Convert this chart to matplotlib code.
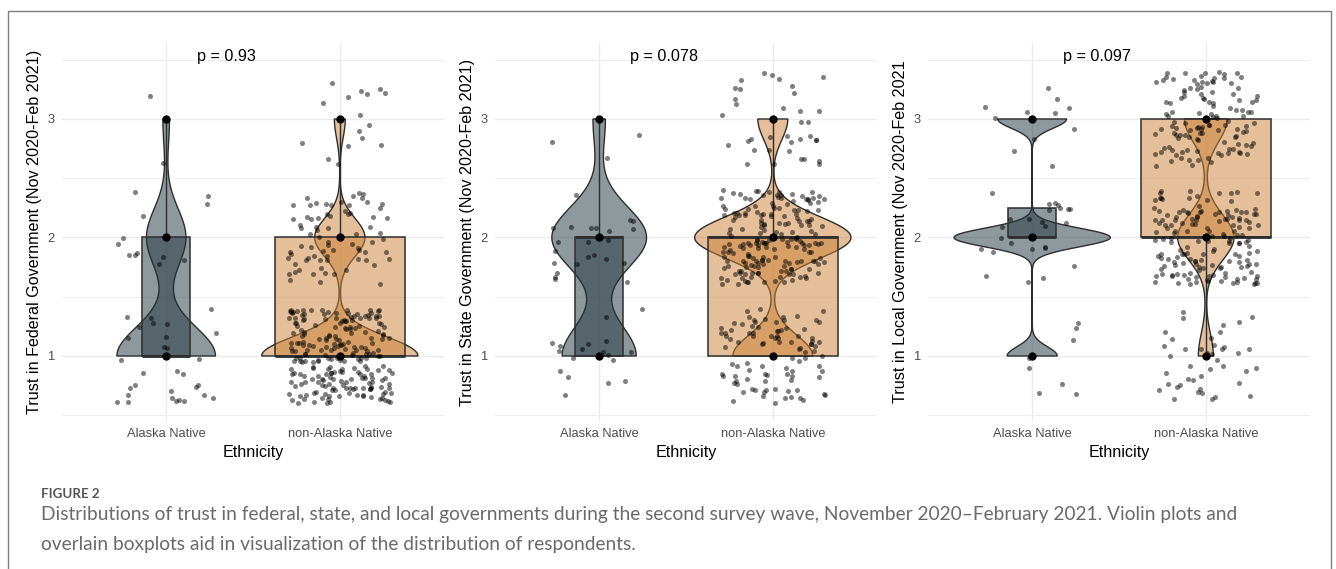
import numpy as np
import matplotlib
matplotlib.use("Agg")
import matplotlib.pyplot as plt
from matplotlib.colors import to_rgba
from matplotlib.lines import Line2D
from matplotlib.ticker import FixedLocator

# ---------------- data (counts of responses at levels 1, 2, 3) ----------------
groups = ["Alaska Native", "non-Alaska Native"]
levels = [1, 2, 3]
federal_an = [30, 12, 2]
federal_non = [230, 74, 16]
state_an = [18, 23, 3]
state_non = [96, 188, 36]
local_an = [8, 25, 11]
local_non = [42, 158, 120]
p_labels = ["p = 0.93", "p = 0.078", "p = 0.097"]
y_titles = ["Trust in Federal Government (Nov 2020-Feb 2021)",
            "Trust in State Government (Nov 2020-Feb 2021)",
            "Trust in Local Government (Nov 2020-Feb 2021"]
x_title = "Ethnicity"
fig_label = "FIGURE 2"
caption_lines = [
    "Distributions of trust in federal, state, and local governments during the second survey wave, November 2020\u2013February 2021. Violin plots and",
    "overlain boxplots aid in visualization of the distribution of respondents.",
]

panels = [(federal_an, federal_non), (state_an, state_non), (local_an, local_non)]

# ---------------- style ----------------
W, H = 1336, 569
group_colors = ["#1f353d", "#cb8135"]
fill_alpha = 0.5
edge_col = "#2e2e2e"
grid_col = "#ebebeb"
txt_col = "#4d4d4d"
font = "Liberation Sans"

fig = plt.figure(figsize=(W / 100, H / 100), dpi=100)
fig.patch.set_facecolor("white")

panel_left_px = [62, 495, 928]
panel_w_px = 382
panel_top_px, panel_bot_px = 43, 421


def bw_nrd0(x):
    hi = np.std(x, ddof=1)
    q75, q25 = np.percentile(x, [75, 25])
    lo = min(hi, (q75 - q25) / 1.34)
    if lo == 0:
        lo = hi if hi > 0 else 1.0
    return 0.9 * lo * len(x) ** (-0.2)


rng = np.random.default_rng(11)

for pi, (cnt_an, cnt_non) in enumerate(panels):
    left = panel_left_px[pi] / W
    bottom = (H - panel_bot_px) / H
    ax = fig.add_axes([left, bottom, panel_w_px / W, (panel_bot_px - panel_top_px) / H])
    ax.set_xlim(0.4, 2.6)
    ax.set_ylim(0.4515, 3.641)
    for s in ax.spines.values():
        s.set_visible(False)
    ax.set_axisbelow(True)
    ax.set_xticks([1, 2])
    ax.set_yticks([1, 2, 3])
    ax.yaxis.set_minor_locator(FixedLocator([0.5, 1.5, 2.5, 3.5]))
    ax.grid(which="major", color=grid_col, lw=1.0)
    ax.grid(which="minor", axis="y", color=grid_col, lw=0.6)
    ax.tick_params(which="both", length=0)
    ax.tick_params(axis="x", pad=5)
    ax.tick_params(axis="y", pad=5)

    counts = [cnt_an, cnt_non]
    data = [np.repeat(levels, c).astype(float) for c in counts]
    positions = [1, 2]

    # violins (scale = "area": same max-density normalisation across the panel)
    dens_list = []
    for d in data:
        h = bw_nrd0(d)
        yy = np.linspace(d.min(), d.max(), 512)
        dens = np.exp(-0.5 * ((yy[:, None] - d[None, :]) / h) ** 2).sum(axis=1) / (len(d) * h * np.sqrt(2 * np.pi))
        dens_list.append((yy, dens))
    maxd = max(dd.max() for _, dd in dens_list)
    for gi, (yy, dens) in enumerate(dens_list):
        hw = 0.45 * dens / maxd
        xs = np.concatenate([positions[gi] - hw, (positions[gi] + hw)[::-1]])
        ys = np.concatenate([yy, yy[::-1]])
        ax.fill(xs, ys, facecolor=to_rgba(group_colors[gi], fill_alpha),
                edgecolor=edge_col, lw=1.0, zorder=2)

    # boxplots (varwidth)
    nmax = max(len(d) for d in data)
    widths = [0.75 * np.sqrt(len(d) / nmax) for d in data]
    bp = ax.boxplot(data, positions=positions, widths=widths, patch_artist=True,
                    showfliers=False, showcaps=False, whis=1.5, zorder=3,
                    medianprops=dict(color=edge_col, lw=2.0),
                    boxprops=dict(edgecolor=edge_col, lw=1.1),
                    whiskerprops=dict(color=edge_col, lw=1.0))
    for gi, box in enumerate(bp["boxes"]):
        box.set_facecolor(to_rgba(group_colors[gi], fill_alpha))

    # jittered respondents
    for gi, d in enumerate(data):
        jx = positions[gi] + rng.uniform(-0.3, 0.3, len(d))
        jy = d + rng.uniform(-0.4, 0.4, len(d))
        ax.scatter(jx, jy, s=13, color="black", alpha=0.5, lw=0, zorder=4)

    # raw values
    for gi, c in enumerate(counts):
        lv = [lvl for lvl, k in zip(levels, c) if k > 0]
        ax.scatter([positions[gi]] * len(lv), lv, s=36, color="black", lw=0, zorder=6)

    ax.set_xticks([1, 2])
    ax.set_xticklabels(groups, fontsize=9.3, color=txt_col, family=font)
    ax.set_yticklabels(["1", "2", "3"], fontsize=9.3, color=txt_col, family=font)

    ax.text(1.175, 3.49, p_labels[pi], ha="left", va="baseline", fontsize=11.6,
            color="black", family=font, zorder=7)
    ax.text(-0.071, 0.5, y_titles[pi], rotation=90, ha="center", va="center",
            transform=ax.transAxes, fontsize=11.6, color="black", family=font)
    ax.text(0.5, -(452 - panel_bot_px) / (panel_bot_px - panel_top_px), x_title,
            ha="center", va="center", transform=ax.transAxes, fontsize=11.6,
            color="black", family=font)

# ---------------- frame and caption ----------------
bx0, bx1, by0 = 7.5 / W, 1330.5 / W, 1 - 10.5 / H
fig.add_artist(Line2D([bx0, bx0, bx1, bx1], [-0.05, by0, by0, -0.05],
                      transform=fig.transFigure, color="#7f7f7f", lw=1.0))

cap_font = ["Lato", "DejaVu Sans"]
renderer = fig.canvas.get_renderer()
t1 = fig.text(41 / W, 1 - 520 / H, caption_lines[0], ha="left", va="baseline",
              fontsize=12, color="#6a6a6a", family=cap_font)
wpx = t1.get_window_extent(renderer).width
t1.set_fontsize(12 * 1196 / wpx)
fig.text(41 / W, 1 - 550 / H, caption_lines[1], ha="left", va="baseline",
         fontsize=t1.get_fontsize(), color="#6a6a6a", family=cap_font)
fig.text(41 / W, 1 - 498 / H, fig_label, ha="left", va="baseline",
         fontsize=9.6, color="#555555", family=cap_font, weight="bold")

fig.savefig("out.png", dpi=100, facecolor="white")
